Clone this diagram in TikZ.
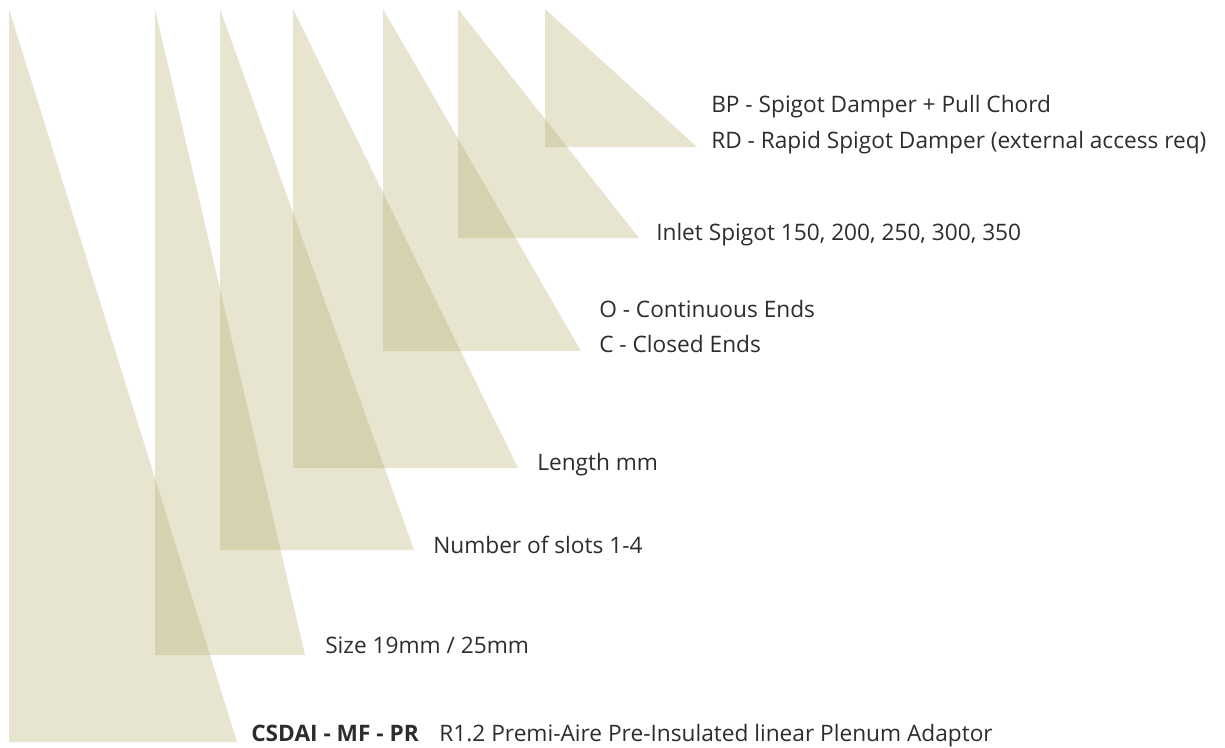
\documentclass[tikz,border=0pt]{standalone}
\usepackage{fontspec}
\setmainfont{Open Sans}
\definecolor{tri}{RGB}{178,168,102}
\definecolor{txt}{RGB}{45,45,45}
\begin{document}
\begin{tikzpicture}[x=0.75pt,y=-0.75pt,
  tri/.style={fill=tri,fill opacity=0.3,draw=none},
  lbl/.style={anchor=base west,inner sep=0pt,text=txt,font=\fontsize{17}{20}\selectfont}]
\useasboundingbox (0,0) rectangle (1225,747);
\fill[white] (0,0) rectangle (1225,747);
\path[tri] (9,9) -- (9,742) -- (237,742) -- cycle;
\path[tri] (155,9) -- (155,655) -- (305,655) -- cycle;
\path[tri] (220,9) -- (220,550) -- (414,550) -- cycle;
\path[tri] (293,9) -- (293,468) -- (518,468) -- cycle;
\path[tri] (383,9) -- (383,351) -- (581,351) -- cycle;
\path[tri] (458,9) -- (458,238) -- (639,238) -- cycle;
\path[tri] (545,9) -- (545,147) -- (697,147) -- cycle;
\node[lbl] (bp) at (711,112.5) {BP - Spigot Damper + Pull Chord};
\node[lbl] (rd) at (711,148.5) {RD - Rapid Spigot Damper (external access req)};
\node[lbl] (inlet) at (656,240) {Inlet Spigot 150, 200, 250, 300, 350};
\node[lbl] (o) at (599,317.5) {O - Continuous Ends};
\node[lbl] (c) at (599,352.5) {C - Closed Ends};
\node[lbl] (len) at (537,470) {Length mm};
\node[lbl] (slots) at (433,553) {Number of slots 1-4};
\node[lbl] (size) at (325,653) {Size 19mm / 25mm};
\node[lbl] (code) at (251,741.5) {\textbf{CSDAI - MF - PR}\hspace{15.5pt}R1.2 Premi-Aire Pre-Insulated linear Plenum Adaptor};
\end{tikzpicture}
\end{document}
